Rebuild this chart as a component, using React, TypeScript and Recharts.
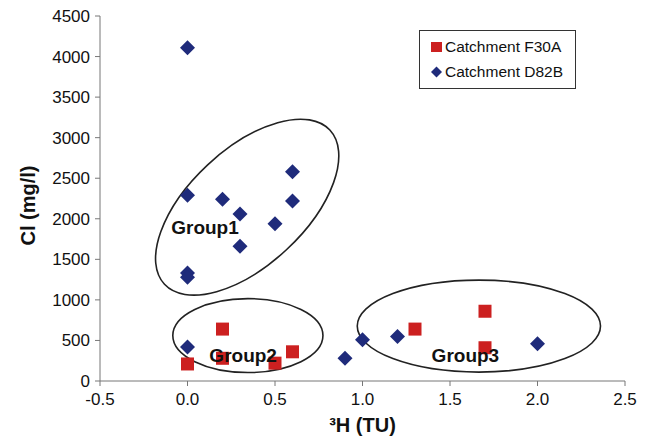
import React from "react";
import {
  ScatterChart,
  Scatter,
  XAxis,
  YAxis,
  ReferenceArea,
  ReferenceDot,
} from "recharts";

// Catchment F30A (red squares)
const f30aTritium = [0, 0.2, 0.2, 0.5, 0.6, 1.3, 1.7, 1.7];
const f30aChloride = [210, 640, 280, 220, 360, 640, 860, 410];

// Catchment D82B (blue diamonds)
const d82bTritium = [0, 0, 0, 0, 0.2, 0.3, 0.3, 0.5, 0.6, 0.6, 0, 0.9, 1.0, 1.2, 2.0];
const d82bChloride = [4110, 2290, 1330, 1280, 2240, 2060, 1660, 1940, 2580, 2220, 420, 280, 510, 550, 460];

const seriesNames = ["Catchment F30A", "Catchment D82B"];

const xTicks = [-0.5, 0, 0.5, 1, 1.5, 2, 2.5];
const yTicks = [0, 500, 1000, 1500, 2000, 2500, 3000, 3500, 4000, 4500];

// Group ellipses: centre (x, y), radii in axis units, rotation in degrees
const groupNames = ["Group1", "Group2", "Group3"];
const groupCx = [0.341, 0.345, 1.665];
const groupCy = [2143, 560, 677];
const groupRx = [0.646, 0.429, 0.695];
const groupRy = [714, 456, 567];
const groupAngle = [-43, 0, 0];
const groupLabelX = [0.1, 0.318, 1.588];
const groupLabelY = [1897, 320, 320];

const f30aData = f30aTritium.map((x, i) => ({ x, y: f30aChloride[i] }));
const d82bData = d82bTritium.map((x, i) => ({ x, y: d82bChloride[i] }));

const RED = "#cc2020";
const BLUE = "#1f2b7b";
const FONT = "'Liberation Sans', Arial, Helvetica, sans-serif";

const Square = (props: any) => {
  const { cx, cy } = props;
  if (cx == null || cy == null) return null;
  return <rect x={cx - 6.5} y={cy - 6.5} width={13} height={13} fill={RED} />;
};

const Diamond = (props: any) => {
  const { cx, cy } = props;
  if (cx == null || cy == null) return null;
  const r = 7.5;
  return (
    <polygon
      points={`${cx},${cy - r} ${cx + r},${cy} ${cx},${cy + r} ${cx - r},${cy}`}
      fill={BLUE}
    />
  );
};

const makeEllipse = (angle: number) => (props: any) => {
  const { x, y, width, height } = props;
  if (x == null) return null;
  const cx = x + width / 2;
  const cy = y + height / 2;
  return (
    <ellipse
      cx={cx}
      cy={cy}
      rx={Math.abs(width) / 2}
      ry={Math.abs(height) / 2}
      fill="none"
      stroke="#222"
      strokeWidth={1.6}
      transform={`rotate(${angle} ${cx} ${cy})`}
    />
  );
};

const LegendBox = () => (
  <div
    style={{
      position: "absolute",
      left: 419,
      top: 30,
      border: "1px solid #333",
      background: "#fff",
      width: 157,
      height: 59,
      boxSizing: "border-box",
      fontFamily: FONT,
      fontSize: 15.5,
      color: "#111",
      padding: "4px 0 0 10px",
    }}
  >
    <div style={{ display: "flex", alignItems: "center", height: 24 }}>
      <svg width={14} height={14} style={{ marginRight: 1 }}>
        <rect x={1} y={2} width={11} height={10} fill={RED} />
      </svg>
      <span>{seriesNames[0]}</span>
    </div>
    <div style={{ display: "flex", alignItems: "center", height: 26 }}>
      <svg width={14} height={14} style={{ marginRight: 1 }}>
        <polygon points="6.5,1.5 12,7 6.5,12.5 1,7" fill={BLUE} />
      </svg>
      <span>{seriesNames[1]}</span>
    </div>
  </div>
);

export default function App() {
  return (
    <div style={{ position: "absolute", left: 0, top: 0, width: 645, height: 438, background: "#fff" }}>
      <ScatterChart
        width={645}
        height={438}
        margin={{ top: 16, right: 20, bottom: 0, left: 0 }}
        style={{ fontFamily: FONT }}
      >
        <XAxis
          type="number"
          dataKey="x"
          domain={[-0.5, 2.5]}
          ticks={xTicks}
          tickFormatter={(v: number) => v.toFixed(1)}
          height={57}
          tickSize={5}
          tickMargin={7}
          stroke="#777"
          tick={{ fill: "#111", fontSize: 17, fontFamily: FONT }}
          label={{
            value: "³H (TU)",
            position: "insideBottom",
            offset: 6,
            style: { fill: "#111", fontSize: 20, fontWeight: "bold", fontFamily: FONT },
          }}
          allowDataOverflow
        />
        <YAxis
          type="number"
          dataKey="y"
          domain={[0, 4500]}
          ticks={yTicks}
          width={100}
          tickSize={5}
          tickMargin={5}
          stroke="#777"
          tick={{ fill: "#111", fontSize: 17, fontFamily: FONT }}
          label={{
            value: "Cl (mg/l)",
            angle: -90,
            position: "insideLeft",
            offset: 28,
            dy: 7,
            style: { fill: "#111", fontSize: 20, fontWeight: "bold", fontFamily: FONT, textAnchor: "middle" },
          }}
          allowDataOverflow
        />
        <Scatter name={seriesNames[0]} data={f30aData} fill={RED} shape={Square} isAnimationActive={false} />
        <Scatter name={seriesNames[1]} data={d82bData} fill={BLUE} shape={Diamond} isAnimationActive={false} />
        {groupNames.map((g, i) => (
          <ReferenceArea
            key={g + "-area"}
            x1={groupCx[i] - groupRx[i]}
            x2={groupCx[i] + groupRx[i]}
            y1={groupCy[i] - groupRy[i]}
            y2={groupCy[i] + groupRy[i]}
            shape={makeEllipse(groupAngle[i])}
            ifOverflow="visible"
          />
        ))}
        {groupNames.map((g, i) => (
          <ReferenceDot
            key={g + "-label"}
            x={groupLabelX[i]}
            y={groupLabelY[i]}
            r={0}
            fill="none"
            stroke="none"
            label={{
              value: g,
              position: "center",
              style: { fill: "#111", fontSize: 19, fontWeight: "bold", fontFamily: FONT },
            }}
          />
        ))}
      </ScatterChart>
      <LegendBox />
    </div>
  );
}
